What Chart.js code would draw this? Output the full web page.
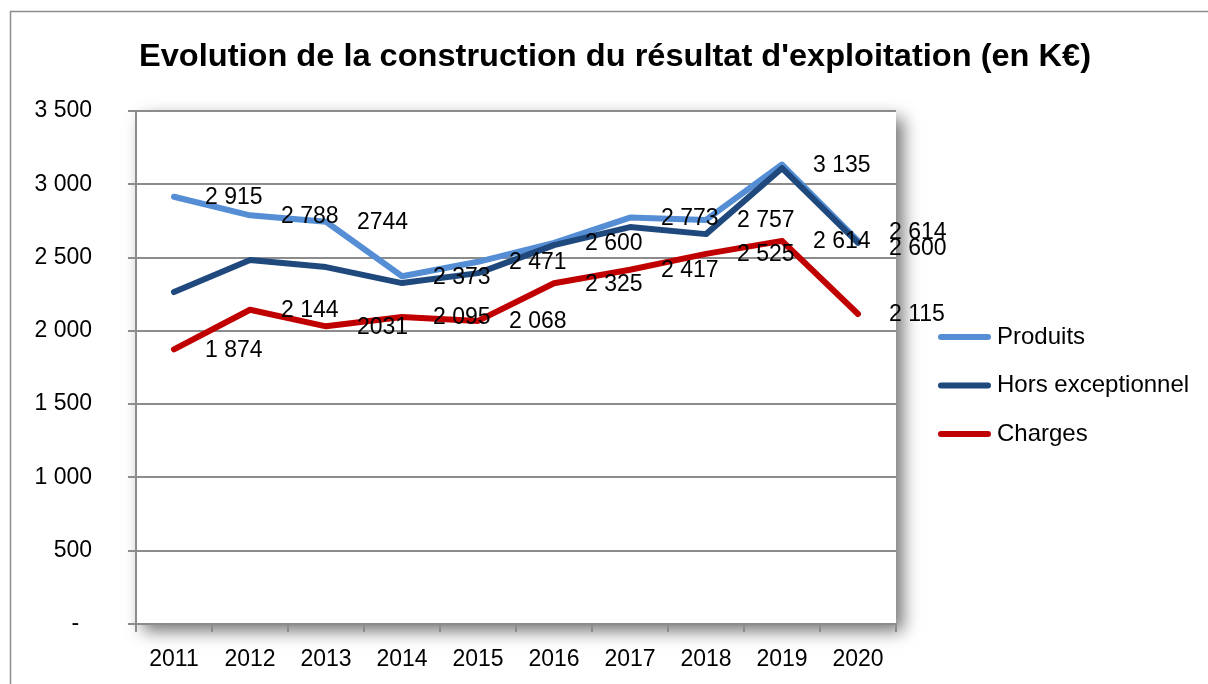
<!DOCTYPE html>
<html>
<head>
<meta charset="utf-8">
<script src="https://cdn.jsdelivr.net/npm/chart.js@4/dist/chart.umd.min.js"></script>
<style>
  html, body { margin: 0; padding: 0; background: #fff; }
  #wrap { position: relative; width: 1208px; height: 684px; }
</style>
</head>
<body>
<div id="wrap"><canvas id="c" width="1208" height="684"></canvas></div>
<script>
const titleText = "Evolution de la construction du résultat d'exploitation (en K€)";
const years = ['2011','2012','2013','2014','2015','2016','2017','2018','2019','2020'];
const produits = [2915, 2788, 2744, 2373, 2471, 2600, 2773, 2757, 3135, 2614];
const horsExceptionnel = [2265, 2483, 2435, 2326, 2394, 2585, 2708, 2660, 3110, 2600];
const charges = [1874, 2144, 2031, 2095, 2068, 2325, 2417, 2525, 2614, 2115];
const produitsLabels = ['2 915','2 788','2744','2 373','2 471','2 600','2 773','2 757','3 135','2 614'];
const horsLabels = [null,null,null,null,null,null,null,null,null,'2 600'];
const chargesLabels = ['1 874','2 144','2031','2 095','2 068','2 325','2 417','2 525','2 614','2 115'];
const yMin = 0, yMax = 3500, yStep = 500;

const FONT = 'Liberation Sans';
Chart.defaults.font.family = FONT;
Chart.defaults.font.size = 23;
Chart.defaults.color = '#000';

const frame = {
  id: 'frame',
  beforeDraw(chart) {
    const ctx = chart.ctx, a = chart.chartArea;
    ctx.save();
    ctx.fillStyle = '#fff';
    ctx.fillRect(0, 0, chart.width, chart.height);
    ctx.strokeStyle = '#8c8c8c';
    ctx.lineWidth = 1.5;
    ctx.beginPath();
    ctx.moveTo(10.5, chart.height + 2);
    ctx.lineTo(10.5, 11.5);
    ctx.lineTo(chart.width + 2, 11.5);
    ctx.stroke();
    // plot area shadow
    ctx.shadowColor = 'rgba(0,0,0,0.55)';
    ctx.shadowBlur = 16;
    ctx.shadowOffsetX = 7;
    ctx.shadowOffsetY = 7;
    ctx.fillStyle = '#fff';
    ctx.fillRect(a.left, a.top, a.right - a.left, a.bottom - a.top);
    ctx.restore();
    // title
    ctx.save();
    ctx.font = 'bold 32px ' + FONT;
    ctx.fillStyle = '#000';
    ctx.textBaseline = 'middle';
    ctx.textAlign = 'center';
    const w = ctx.measureText(titleText).width;
    const target = 952;
    const sx = target / w;
    ctx.translate(615, 57);
    ctx.scale(sx, 1);
    ctx.fillText(titleText, 0, 0);
    ctx.restore();
  }
};

const labelNudge = { '0-9': -9, '1-9': 5 };
const pointLabels = {
  id: 'pointLabels',
  afterDatasetsDraw(chart) {
    const ctx = chart.ctx;
    ctx.save();
    ctx.font = '23px ' + FONT;
    ctx.fillStyle = '#000';
    ctx.textBaseline = 'middle';
    ctx.textAlign = 'left';
    chart.data.datasets.forEach((ds, i) => {
      const meta = chart.getDatasetMeta(i);
      meta.data.forEach((pt, j) => {
        const t = ds.pointLabels[j];
        if (!t) return;
        const dy = labelNudge[i + '-' + j] || 0;
        ctx.fillText(t, pt.x + 31, pt.y + 1 + dy);
      });
    });
    ctx.restore();
  }
};

const legendBox = {
  id: 'legendBox',
  afterDraw(chart) {
    const ctx = chart.ctx;
    ctx.save();
    ctx.font = '24px ' + FONT;
    ctx.textBaseline = 'middle';
    chart.data.datasets.forEach((ds, i) => {
      const y = 337 + i * 48.5;
      ctx.strokeStyle = ds.borderColor;
      ctx.lineWidth = 6;
      ctx.lineCap = 'round';
      ctx.beginPath();
      ctx.moveTo(941, y);
      ctx.lineTo(988, y);
      ctx.stroke();
      ctx.fillStyle = '#000';
      ctx.fillText(ds.label, 997, y);
    });
    ctx.restore();
  }
};

new Chart(document.getElementById('c'), {
  type: 'line',
  data: {
    labels: years,
    datasets: [
      { label: 'Produits', data: produits, pointLabels: produitsLabels, borderColor: '#558ED5', order: 2 },
      { label: 'Hors exceptionnel', data: horsExceptionnel, pointLabels: horsLabels, borderColor: '#1F497D', order: 1 },
      { label: 'Charges', data: charges, pointLabels: chargesLabels, borderColor: '#C00000', order: 0 }
    ].map(d => Object.assign(d, {
      borderWidth: 6, pointRadius: 0, pointHoverRadius: 0, tension: 0,
      borderCapStyle: 'round', borderJoinStyle: 'round', fill: false
    }))
  },
  options: {
    responsive: false,
    animation: false,
    events: [],
    layout: { padding: { left: 0, top: 111, right: 312, bottom: 0 } },
    plugins: { legend: { display: false }, tooltip: { enabled: false }, title: { display: false } },
    scales: {
      x: {
        offset: true,
        grid: { display: true, offset: true, drawOnChartArea: false, drawTicks: true, tickLength: 8, color: '#8c8c8c', lineWidth: 2 },
        border: { display: true, color: '#8c8c8c', width: 2 },
        ticks: { padding: 14, maxRotation: 0, autoSkip: false, font: { size: 23 } },
        afterFit(s) { s.height = 60; }
      },
      y: {
        min: yMin, max: yMax,
        grid: { color: '#8c8c8c', lineWidth: 2, tickLength: 8 },
        border: { display: true, color: '#8c8c8c', width: 2 },
        ticks: {
          stepSize: yStep, padding: 36, font: { size: 23 },
          callback: v => v === 0 ? '-  ' : String(v).replace(/\B(?=(\d{3})+(?!\d))/g, ' ')
        },
        afterFit(s) { s.width = 136; }
      }
    }
  },
  plugins: [frame, pointLabels, legendBox]
});
</script>
</body>
</html>
